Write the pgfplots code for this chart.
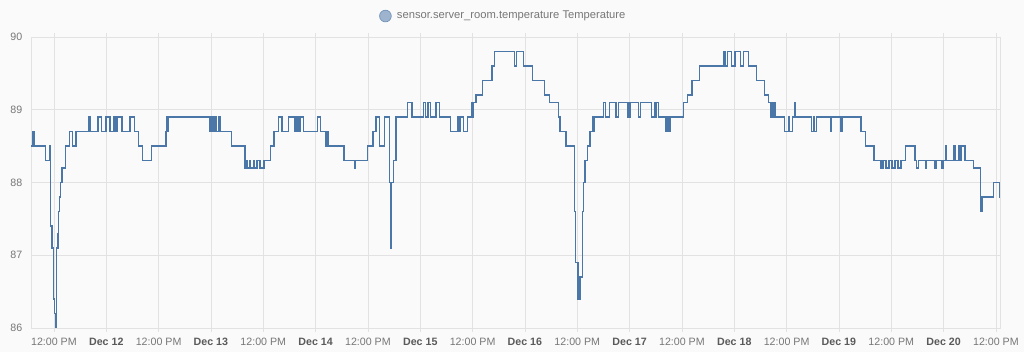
\documentclass[border=0pt]{standalone}
\usepackage{fontspec}
\setmainfont{Liberation Sans}
\usepackage{pgfplots}
\pgfplotsset{compat=1.18}
\definecolor{bg}{HTML}{FAFAFA}
\definecolor{gridc}{HTML}{E2E2E2}
\definecolor{linec}{HTML}{4A76A8}
\definecolor{tickc}{HTML}{777777}
\definecolor{datec}{HTML}{5A5A5A}
\definecolor{legfill}{HTML}{9DB3CE}
\begin{document}
\begin{tikzpicture}
\path[use as bounding box, fill=bg] (0,0) rectangle (768pt,264pt);
\begin{axis}[
  at={(23.25pt,18pt)}, anchor=south west,
  scale only axis, width=726.75pt, height=218.25pt,
  xmin=0.281, xmax=9.539, ymin=86, ymax=90,
  axis line style={gridc}, 
  grid=major, grid style={gridc, line width=0.6pt},
  xtick={0.5,1,1.5,2,2.5,3,3.5,4,4.5,5,5.5,6,6.5,7,7.5,8,8.5,9,9.5},
  xticklabels={12:00 PM,\textcolor{datec}{\textbf{Dec 12}},12:00 PM,\textcolor{datec}{\textbf{Dec 13}},12:00 PM,\textcolor{datec}{\textbf{Dec 14}},12:00 PM,\textcolor{datec}{\textbf{Dec 15}},12:00 PM,\textcolor{datec}{\textbf{Dec 16}},12:00 PM,\textcolor{datec}{\textbf{Dec 17}},12:00 PM,\textcolor{datec}{\textbf{Dec 18}},12:00 PM,\textcolor{datec}{\textbf{Dec 19}},12:00 PM,\textcolor{datec}{\textbf{Dec 20}},12:00 PM},
  ytick={86,87,88,89,90},
  /pgf/number format/assume math mode=true,
  tick label style={font=\fontsize{8}{10}\selectfont, text=tickc},
  x tick label style={yshift=-1pt},
  y tick label style={xshift=0pt},
  tick align=outside, major tick length=3pt, tick style={gridc},
  ytick style={draw=none},
  legend style={at={(0.3591,1.072)}, anchor=west, draw=none, fill=none, inner sep=0pt,
    font=\fontsize{8.4}{10}\selectfont, text=tickc, nodes={inner sep=0pt}, column sep=4pt},
  legend image code/.code={\draw[fill=legfill, draw=linec!80, line width=0.5pt] (4.5pt,0) circle (4.4pt);},
]
\addplot[const plot, color=linec, line width=1.1pt] coordinates {
(0.284,88.5) (0.298,88.7) (0.310,88.5) (0.418,88.3) (0.456,88.5) (0.469,87.4) (0.482,87.1) (0.494,86.4)
(0.503,86.2) (0.513,86.0) (0.526,87.1) (0.539,87.3) (0.546,87.6) (0.555,87.8) (0.563,88.0) (0.577,88.2)
(0.610,88.5) (0.647,88.7) (0.677,88.5) (0.711,88.7) (0.835,88.9) (0.843,88.7) (0.919,88.9) (0.954,88.7)
(0.997,88.9) (1.036,88.7) (1.071,88.9) (1.078,88.7) (1.083,88.9) (1.093,88.7) (1.105,88.9) (1.152,88.7)
(1.227,88.9) (1.270,88.7) (1.310,88.5) (1.344,88.3) (1.432,88.5) (1.571,88.7) (1.580,88.9) (1.587,88.7)
(1.592,88.9) (1.991,88.7) (2.007,88.9) (2.017,88.7) (2.022,88.9) (2.031,88.7) (2.044,88.9) (2.053,88.7)
(2.072,88.9) (2.085,88.7) (2.198,88.5) (2.325,88.2) (2.345,88.3) (2.351,88.2) (2.373,88.3) (2.380,88.2)
(2.405,88.3) (2.411,88.2) (2.440,88.3) (2.469,88.2) (2.507,88.3) (2.569,88.5) (2.602,88.7) (2.644,88.9)
(2.679,88.7) (2.739,88.9) (2.796,88.7) (2.813,88.9) (2.832,88.7) (2.839,88.9) (2.848,88.7) (2.854,88.9)
(2.882,88.7) (3.020,88.9) (3.045,88.7) (3.096,88.5) (3.109,88.7) (3.118,88.5) (3.271,88.3) (3.370,88.2)
(3.379,88.3) (3.494,88.5) (3.542,88.7) (3.548,88.5) (3.553,88.7) (3.575,88.9) (3.610,88.5) (3.656,88.9)
(3.704,88.0) (3.714,87.1) (3.720,88.0) (3.742,88.3) (3.768,88.9) (3.878,89.1) (3.921,88.9) (4.029,89.1)
(4.048,88.9) (4.074,89.1) (4.100,88.9) (4.150,89.1) (4.182,88.9) (4.287,88.7) (4.354,88.9) (4.365,88.7)
(4.379,88.9) (4.411,88.7) (4.449,88.9) (4.491,89.1) (4.499,88.9) (4.507,89.1) (4.532,89.2) (4.594,89.4)
(4.685,89.6) (4.707,89.8) (4.898,89.6) (4.919,89.8) (4.984,89.6) (5.070,89.4) (5.187,89.2) (5.233,89.1)
(5.321,88.9) (5.335,88.7) (5.392,88.5) (5.473,87.6) (5.481,86.9) (5.505,86.4) (5.526,86.7) (5.548,87.6)
(5.559,88.0) (5.574,88.3) (5.596,88.5) (5.622,88.7) (5.644,88.9) (5.652,88.7) (5.660,88.9) (5.749,89.1)
(5.770,88.9) (5.806,89.1) (5.870,88.9) (5.892,89.1) (5.987,88.9) (6.004,89.1) (6.087,88.9) (6.102,89.1)
(6.211,88.9) (6.236,89.1) (6.247,88.9) (6.255,89.1) (6.276,88.9) (6.348,88.7) (6.357,88.9) (6.367,88.7)
(6.386,88.9) (6.513,89.1) (6.553,89.2) (6.596,89.4) (6.666,89.6) (6.895,89.8) (6.911,89.6) (6.933,89.8)
(6.975,89.6) (7.007,89.8) (7.061,89.6) (7.086,89.8) (7.134,89.6) (7.212,89.4) (7.287,89.2) (7.327,89.1)
(7.351,88.9) (7.365,89.1) (7.375,88.9) (7.382,89.1) (7.389,88.9) (7.480,88.7) (7.516,88.9) (7.523,88.7)
(7.554,88.9) (7.580,89.1) (7.587,88.9) (7.740,88.7) (7.762,88.9) (7.768,88.7) (7.787,88.9) (7.919,88.7)
(7.929,88.9) (8.020,88.7) (8.036,88.9) (8.211,88.7) (8.254,88.5) (8.335,88.3) (8.402,88.2) (8.421,88.3)
(8.450,88.2) (8.478,88.3) (8.507,88.2) (8.536,88.3) (8.564,88.2) (8.593,88.3) (8.638,88.5) (8.727,88.3)
(8.743,88.2) (8.758,88.3) (8.827,88.2) (8.835,88.3) (8.918,88.2) (8.934,88.3) (8.985,88.2) (8.997,88.3)
(9.020,88.5) (9.028,88.3) (9.093,88.5) (9.109,88.3) (9.140,88.5) (9.157,88.3) (9.173,88.5) (9.204,88.3)
(9.284,88.2) (9.352,87.8) (9.359,87.6) (9.367,87.8) (9.475,88.0) (9.532,87.8) (9.539,87.8)
};
\addlegendentry{sensor.server\_room.temperature Temperature}
\end{axis}
\end{tikzpicture}
\end{document}
